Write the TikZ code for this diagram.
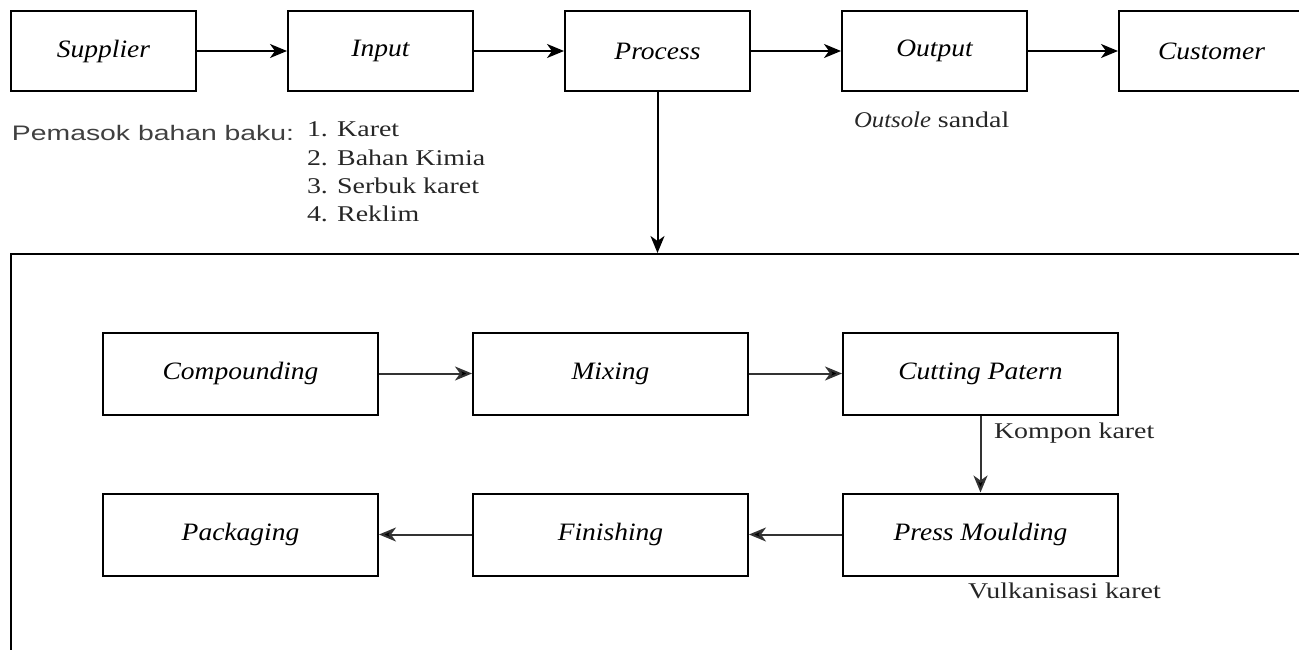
\documentclass[tikz,border=0pt]{standalone}
\usepackage{fontspec}
\setmainfont{Liberation Serif}[FakeStretch=1.24,ItalicFeatures={FakeStretch=1.1}]
\newfontfamily\pemasokfont{Liberation Sans}[FakeStretch=1.35]
\usetikzlibrary{arrows.meta,positioning}

\begin{document}
\begin{tikzpicture}[x=1pt,y=1pt,-{Stealth[length=17pt,width=14pt,inset=5pt]},
                    line width=2pt,node distance=277pt]
  \tikzstyle{block}=[rectangle,draw=black,fill=white,minimum width=185pt,minimum height=80pt,
                     inner sep=0pt,font=\fontsize{25}{29}\selectfont\itshape]
  \tikzstyle{stage}=[block,minimum width=275pt,minimum height=82pt]
  \tikzstyle{note}=[inner sep=0pt,text=black!85,font=\fontsize{22.5}{28.3}\selectfont]
  \tikzstyle{flow}=[draw=black!80]

  \useasboundingbox (0,0) rectangle (1299,-650);
  \clip (0,0) rectangle (1299,-650);

  % SIPOC
  \node[block] (S) at (103.5,-51) {Supplier};
  \node[block] (I) [right of=S]    {Input};
  \node[block] (P) [right of=I]    {Process};
  \node[block] (O) [right of=P]    {Output};
  \node[block] (C) [right of=O]    {Customer};

  \node[note,anchor=base west,text=black!75,font=\fontsize{21}{28}\selectfont\pemasokfont]
       (pemasok) at (11,-141) {Pemasok bahan baku:};
  \node[note,anchor=north west,align=left] (bahan) at (306,-121)
       {1. Karet\\2. Bahan Kimia\\3. Serbuk karet\\4. Reklim};
  \node[note,anchor=base west] (outsole) at (853,-128) {\textit{Outsole} sandal};

  % detail of the process
  \node[draw=black,minimum width=1298pt,minimum height=420pt,inner sep=0pt,
        anchor=north west] (detail) at (10,-253) {};

  \node[stage] (comp)  at (240.5,-373.5) {Compounding};
  \node[stage] (mix)   [right of=comp,node distance=370pt] {Mixing};
  \node[stage] (cut)   [right of=mix,node distance=370pt]  {Cutting Patern};
  \node[stage] (press) [below of=cut,node distance=161pt]  {Press Moulding};
  \node[stage] (fin)   [left of=press,node distance=370pt] {Finishing};
  \node[stage] (pack)  [left of=fin,node distance=370pt]   {Packaging};

  \node[note,anchor=base west] (kompon) at (993,-438) {Kompon karet};
  \node[note,anchor=base west] (vulkan) at (967,-598) {Vulkanisasi karet};

  \path (S) edge (I)
        (I) edge (P)
        (P) edge (O)
        (O) edge (C)
        (P) edge (P |- detail.north);
  \path[flow] (comp) edge (mix)
        (mix) edge (cut)
        (cut) edge (press)
        (press) edge (fin)
        (fin) edge (pack);
\end{tikzpicture}
\end{document}
